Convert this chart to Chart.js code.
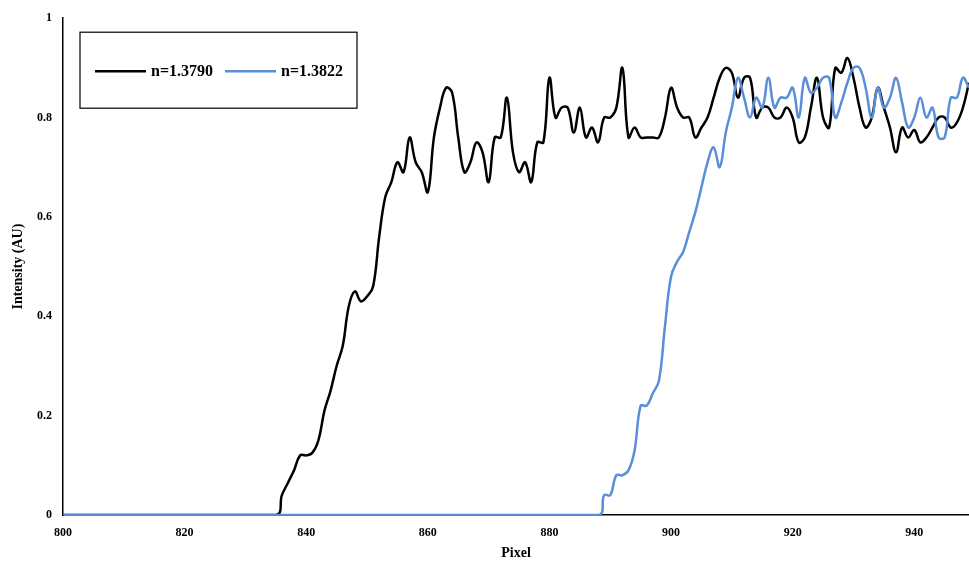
<!DOCTYPE html>
<html lang="en">
  <head>
    <meta charset="UTF-8" />
    <title>Intensity vs Pixel</title>
    <script src="https://cdn.jsdelivr.net/npm/chart.js@4.4.1/dist/chart.umd.min.js"></script>
    <style>
      body {
        margin: 0;
        background: #fff;
      }
      .wrap {
        position: relative;
        width: 969px;
        height: 566px;
      }
    </style>
  </head>
  <body>
    <div class="wrap"><canvas id="chart"></canvas></div>

    <script>
      // values
      const seriesLabels = ["n=1.3790", "n=1.3822"];

      const blackPixel = [
        800, 835, 836, 837, 838, 839, 840, 841, 842, 843, 844, 845, 846, 847,
        848, 849, 850, 851, 852, 853, 854, 855, 856, 857, 858, 859, 860, 861,
        862, 863, 864, 865, 866, 867, 868, 869, 870, 871, 872, 873, 874, 875,
        876, 877, 878, 879, 880, 881, 882, 883, 884, 885, 886, 887, 888, 889,
        890, 891, 892, 893, 894, 895, 896, 897, 898, 899, 900, 901, 902, 903,
        904, 905, 906, 907, 908, 909, 910, 911, 912, 913, 914, 915, 916, 917,
        918, 919, 920, 921, 922, 923, 924, 925, 926, 927, 928, 929, 930, 931,
        932, 933, 934, 935, 936, 937, 938, 939, 940, 941, 942, 943, 944, 945,
        946, 947, 948, 949,
      ];
      const blackIntensity = [
        0, 0, 0.04, 0.065, 0.09, 0.12, 0.12, 0.125, 0.15, 0.21, 0.25, 0.3,
        0.34, 0.42, 0.45, 0.43, 0.44, 0.46, 0.56, 0.64, 0.67, 0.71, 0.69, 0.76,
        0.71, 0.69, 0.65, 0.76, 0.82, 0.86, 0.85, 0.76, 0.69, 0.71, 0.75, 0.73,
        0.67, 0.76, 0.76, 0.84, 0.73, 0.69, 0.71, 0.67, 0.75, 0.75, 0.88, 0.8,
        0.82, 0.82, 0.77, 0.82, 0.76, 0.78, 0.75, 0.8, 0.8, 0.82, 0.9, 0.76,
        0.78, 0.76, 0.76, 0.76, 0.76, 0.8, 0.86, 0.82, 0.8, 0.8, 0.76, 0.78,
        0.8, 0.84, 0.88, 0.9, 0.89, 0.84, 0.88, 0.88, 0.8, 0.82, 0.82, 0.8,
        0.8, 0.82, 0.8, 0.75, 0.76, 0.82, 0.88, 0.8, 0.78, 0.9, 0.89, 0.92,
        0.88, 0.82, 0.78, 0.8, 0.86, 0.82, 0.78, 0.73, 0.78, 0.76, 0.775, 0.75,
        0.76, 0.78, 0.8, 0.8, 0.78, 0.79, 0.82, 0.87,
      ];

      const bluePixel = [
        800, 888, 889, 890, 891, 892, 893, 894, 895, 896, 897, 898, 899, 900,
        901, 902, 903, 904, 905, 906, 907, 908, 909, 910, 911, 912, 913, 914,
        915, 916, 917, 918, 919, 920, 921, 922, 923, 924, 925, 926, 927, 928,
        929, 930, 931, 932, 933, 934, 935, 936, 937, 938, 939, 940, 941, 942,
        943, 944, 945, 946, 947, 948, 949,
      ];
      const blueIntensity = [
        0, 0, 0.04, 0.04, 0.08, 0.08, 0.09, 0.13, 0.22, 0.22, 0.245, 0.27,
        0.38, 0.48, 0.51, 0.53, 0.57, 0.61, 0.66, 0.71, 0.74, 0.7, 0.77, 0.82,
        0.88, 0.84, 0.8, 0.84, 0.82, 0.88, 0.82, 0.84, 0.84, 0.86, 0.8, 0.88,
        0.85, 0.86, 0.88, 0.88, 0.8, 0.83, 0.87, 0.9, 0.9, 0.86, 0.8, 0.86,
        0.82, 0.84, 0.88, 0.83, 0.78, 0.8, 0.84, 0.8, 0.82, 0.76, 0.76, 0.84,
        0.84, 0.88, 0.86,
      ];

      const xTicks = [800, 820, 840, 860, 880, 900, 920, 940];

      const toPoints = (xs, ys) => xs.map((x, i) => ({ x: x, y: ys[i] }));

      const fontFamily = "'Liberation Serif', 'Times New Roman', serif";

      // boxed legend in the top-left of the plot
      const boxLegend = {
        id: "boxLegend",
        afterDraw(chart) {
          const ctx = chart.ctx;
          const left = chart.chartArea.left + 17;
          const top = chart.chartArea.top + 14;
          ctx.save();
          ctx.strokeStyle = "#000";
          ctx.lineWidth = 1.2;
          ctx.strokeRect(left, top, 277, 76);
          ctx.font = "bold 16px " + fontFamily;
          ctx.textBaseline = "middle";
          const y = top + 39;
          const items = [
            { ds: chart.data.datasets[1], x: left + 15 },
            { ds: chart.data.datasets[0], x: left + 145 },
          ];
          items.forEach((it) => {
            ctx.strokeStyle = it.ds.borderColor;
            ctx.lineWidth = 2.5;
            ctx.beginPath();
            ctx.moveTo(it.x, y);
            ctx.lineTo(it.x + 51, y);
            ctx.stroke();
            ctx.fillStyle = "#000";
            ctx.fillText(it.ds.label, it.x + 56, y + 1);
          });
          ctx.restore();
        },
      };

      new Chart(document.getElementById("chart"), {
        type: "line",
        data: {
          datasets: [
            {
              label: seriesLabels[1],
              data: toPoints(bluePixel, blueIntensity),
              borderColor: "#5a8ed8",
              borderWidth: 2.5,
              pointRadius: 0,
              tension: 0.4,
              order: 0,
            },
            {
              label: seriesLabels[0],
              data: toPoints(blackPixel, blackIntensity),
              borderColor: "#000",
              borderWidth: 2.5,
              pointRadius: 0,
              tension: 0.4,
              order: 1,
            },
          ],
        },
        options: {
          responsive: true,
          maintainAspectRatio: false,
          animation: false,
          layout: { padding: { top: 6, right: 0, left: 0, bottom: 4 } },
          plugins: {
            legend: { display: false },
            tooltip: { enabled: false },
          },
          scales: {
            x: {
              type: "linear",
              min: 800,
              max: 949,
              grid: { display: false, drawTicks: false },
              border: { display: true, color: "#000", width: 1.5 },
              afterBuildTicks: (axis) => {
                axis.ticks = xTicks.map((v) => ({ value: v }));
              },
              afterFit: (axis) => {
                axis.height = 47;
              },
              ticks: {
                padding: 11,
                color: "#000",
                font: { family: fontFamily, size: 12, weight: "bold" },
              },
              title: {
                display: true,
                text: "Pixel",
                color: "#000",
                padding: { top: 0, bottom: 0 },
                font: { family: fontFamily, size: 14, weight: "bold" },
              },
            },
            y: {
              min: 0,
              max: 1,
              grid: { display: false, drawTicks: false },
              border: { display: true, color: "#000", width: 1.5 },
              afterFit: (axis) => {
                axis.width = 63;
              },
              ticks: {
                stepSize: 0.2,
                padding: 11,
                color: "#000",
                font: { family: fontFamily, size: 12, weight: "bold" },
                callback: (v) => Math.round(v * 10) / 10,
              },
              title: {
                display: true,
                text: "Intensity (AU)",
                color: "#000",
                padding: { top: 10, bottom: 0 },
                font: { family: fontFamily, size: 14, weight: "bold" },
              },
            },
          },
        },
        plugins: [boxLegend],
      });
    </script>
  </body>
</html>
